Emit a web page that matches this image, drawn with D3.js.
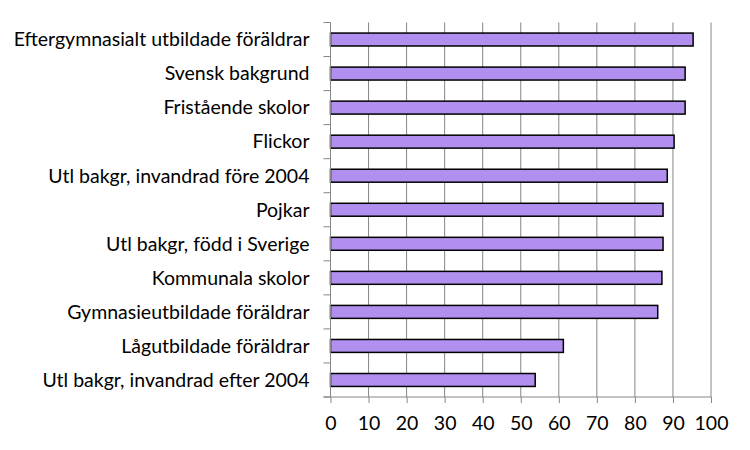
<!DOCTYPE html>
<html>
<head>
<meta charset="utf-8">
<script src="https://cdn.jsdelivr.net/npm/d3@7"></script>
<style>
  body { margin: 0; background: #fff; }
  text { font-family: Lato, "Open Sans", sans-serif; fill: #000; }
</style>
</head>
<body>
<div class="chart"></div>
<script>
var categories = [
  "Eftergymnasialt utbildade föräldrar",
  "Svensk bakgrund",
  "Fristående skolor",
  "Flickor",
  "Utl bakgr, invandrad före 2004",
  "Pojkar",
  "Utl bakgr, född i Sverige",
  "Kommunala skolor",
  "Gymnasieutbildade föräldrar",
  "Lågutbildade föräldrar",
  "Utl bakgr, invandrad efter 2004"
];
var values = [95.3, 93.2, 93.2, 90.3, 88.5, 87.4, 87.4, 87.1, 86.0, 61.2, 53.8];
var xTicks = [0, 10, 20, 30, 40, 50, 60, 70, 80, 90, 100];

var svgWidth = 750;
var svgHeight = 450;
var margin = { top: 22.5, right: 39, bottom: 53, left: 330.5 };
var width = svgWidth - margin.left - margin.right;
var height = svgHeight - margin.top - margin.bottom;

var svg = d3.select(".chart")
  .append("svg")
  .attr("width", svgWidth)
  .attr("height", svgHeight);

var chartGroup = svg.append("g")
  .attr("transform", `translate(${margin.left}, ${margin.top})`);

var xScale = d3.scaleLinear()
  .domain([0, 100])
  .range([0, width]);

var yScale = d3.scaleBand()
  .domain(categories)
  .range([0, height])
  .paddingInner(0.62)
  .paddingOuter(0.31);

// gridlines
chartGroup.append("g")
  .selectAll("line")
  .data(xTicks.slice(1))
  .enter()
  .append("line")
  .attr("x1", d => xScale(d))
  .attr("x2", d => xScale(d))
  .attr("y1", 0)
  .attr("y2", height)
  .attr("stroke", "#868686")
  .attr("stroke-width", 1);

// bars
chartGroup.selectAll("rect.bar")
  .data(values)
  .enter()
  .append("rect")
  .attr("class", "bar")
  .attr("x", 0)
  .attr("y", (d, i) => yScale(categories[i]))
  .attr("width", d => xScale(d))
  .attr("height", yScale.bandwidth())
  .attr("fill", "#b08fef")
  .attr("stroke", "#000")
  .attr("stroke-width", 1.5);

// left axis: line + ticks at band boundaries
var step = height / categories.length;
var leftAxis = chartGroup.append("g");
leftAxis.append("line")
  .attr("x1", 0).attr("x2", 0)
  .attr("y1", 0).attr("y2", height)
  .attr("stroke", "#868686");
leftAxis.selectAll("line.tick")
  .data(d3.range(categories.length + 1))
  .enter()
  .append("line")
  .attr("class", "tick")
  .attr("x1", -7).attr("x2", 0)
  .attr("y1", i => i * step).attr("y2", i => i * step)
  .attr("stroke", "#868686");
leftAxis.selectAll("text")
  .data(categories)
  .enter()
  .append("text")
  .attr("x", -21)
  .attr("y", d => yScale(d) + yScale.bandwidth() / 2)
  .attr("dy", "0.35em")
  .attr("text-anchor", "end")
  .style("font-size", "19.5px")
  .text(d => d);

// bottom axis
var bottomAxis = d3.axisBottom(xScale)
  .tickValues(xTicks)
  .tickSize(6)
  .tickPadding(13);

var xAxisG = chartGroup.append("g")
  .attr("transform", `translate(0, ${height})`)
  .call(bottomAxis);
xAxisG.select(".domain").attr("stroke", "#868686").attr("d", `M-7,0H${width}`);
xAxisG.selectAll(".tick line").attr("stroke", "#868686");
xAxisG.selectAll(".tick text")
  .style("font-family", "Lato, 'Open Sans', sans-serif")
  .style("font-size", "19.5px")
  .attr("fill", "#000");
</script>
</body>
</html>
